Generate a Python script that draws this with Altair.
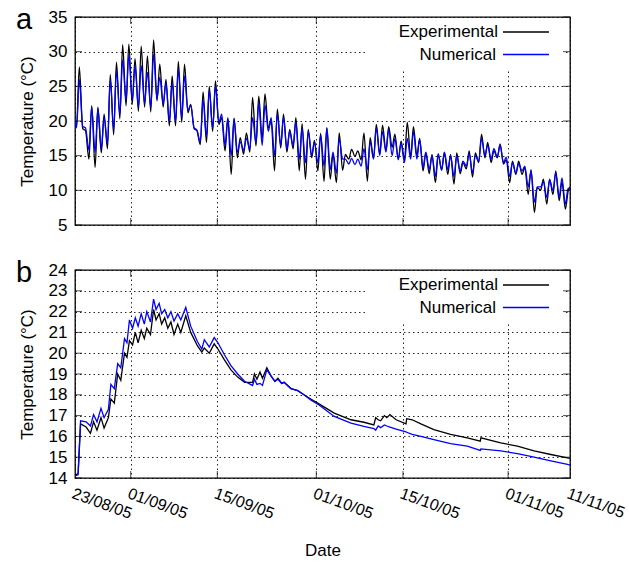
import altair as alt
import pandas as pd

FONT = "Liberation Sans"
START = pd.Timestamp("2005-08-23")
SERIES = ["Experimental", "Numerical"]
COLORS = ["#000000", "#0000ff"]
TICK_DATES = ["2005-08-23", "2005-09-01", "2005-09-15", "2005-10-01",
              "2005-10-15", "2005-11-01", "2005-11-11"]
A_YTICKS = [5, 10, 15, 20, 25, 30, 35]
B_YTICKS = [14, 15, 16, 17, 18, 19, 20, 21, 22, 23, 24]

# ---- panel a: daily minimum / maximum (days 0..79 after 23/08/05)
a_exp_min = [19.3, 18.9, 14.5, 13.3, 15.4, 16.0, 18.0, 20.3, 22.2, 22.4,
             21.4, 22.0, 21.3, 22.9, 22.0, 19.3, 19.3, 19.8, 21.2, 18.9,
             16.6, 16.9, 18.5, 19.5, 15.7, 12.3, 14.7, 15.2, 15.5, 16.4,
             17.4, 19.0, 12.8, 16.1, 15.5, 16.0, 12.8, 11.6, 14.7, 12.8,
             11.3, 11.6, 11.1, 12.9, 14.5, 14.9, 14.4, 11.3, 14.6, 15.2,
             15.7, 16.2, 14.4, 14.4, 14.8, 15.0, 12.8, 12.4, 11.1, 12.9,
             12.3, 10.9, 12.4, 13.1, 11.9, 14.0, 14.7, 14.0, 14.7, 13.8,
             11.1, 12.3, 12.3, 9.4, 6.8, 10.0, 8.0, 9.4, 8.5, 7.3]
a_exp_max = [27.8, 18.6, 22.2, 22.0, 21.0, 26.7, 28.5, 31.0, 31.1, 29.0,
             30.8, 29.4, 31.7, 28.2, 26.0, 26.5, 28.6, 28.2, 22.4, 18.6,
             24.2, 25.0, 25.8, 20.5, 20.3, 20.4, 17.6, 18.3, 23.4, 23.6,
             23.9, 20.0, 21.7, 21.0, 18.8, 20.5, 19.6, 18.8, 17.2, 18.2,
             19.0, 15.2, 18.3, 15.2, 15.9, 15.7, 18.3, 17.6, 19.5, 19.4,
             19.2, 18.1, 17.1, 19.8, 19.2, 17.5, 15.4, 15.2, 15.2, 15.4,
             15.2, 15.4, 14.0, 15.7, 15.4, 18.1, 16.9, 15.7, 16.7, 14.4,
             14.2, 14.2, 13.3, 13.0, 10.4, 11.6, 11.6, 12.8, 11.2, 9.9]
a_num_min = [19.0, 19.2, 15.8, 15.5, 16.0, 16.8, 18.8, 21.0, 23.0, 23.0,
             22.0, 22.5, 22.0, 23.2, 22.5, 20.0, 20.0, 20.5, 21.5, 19.0,
             17.0, 17.8, 19.0, 19.8, 16.5, 15.0, 15.5, 15.8, 16.0, 16.8,
             16.5, 18.5, 15.0, 16.5, 16.0, 16.5, 14.5, 14.0, 15.0, 14.0,
             13.5, 13.0, 12.5, 14.5, 13.8, 13.7, 13.5, 13.0, 14.5, 15.0,
             15.5, 15.0, 14.5, 14.0, 14.5, 14.5, 13.3, 13.0, 12.0, 13.0,
             13.0, 12.0, 12.8, 13.5, 12.5, 14.2, 15.0, 14.5, 14.8, 14.0,
             12.0, 12.5, 12.8, 10.5, 8.3, 10.5, 9.0, 10.0, 9.0, 8.0]
a_num_max = [26.0, 19.0, 22.0, 21.8, 20.5, 26.0, 27.3, 28.8, 29.5, 27.9,
             28.0, 27.0, 29.6, 26.3, 25.5, 25.5, 27.5, 26.5, 22.3, 18.7,
             23.0, 24.4, 25.0, 21.0, 20.5, 20.3, 17.0, 17.5, 20.5, 22.6,
             22.3, 20.5, 21.0, 20.5, 18.5, 19.8, 19.0, 18.5, 17.0, 18.0,
             19.0, 15.5, 17.5, 14.5, 14.6, 14.5, 16.0, 17.0, 19.0, 18.5,
             18.8, 17.5, 16.8, 17.5, 18.5, 17.3, 15.5, 15.0, 15.3, 15.5,
             15.0, 15.0, 14.2, 15.3, 15.0, 17.5, 16.5, 16.0, 16.5, 14.8,
             14.0, 13.8, 13.5, 12.8, 10.5, 11.2, 11.5, 12.5, 11.8, 10.3]
a_first = [19.8, 20.0]   # value at 23/08/05 00:00 (exp, num)
a_last = [10.5, 10.0]    # value at 11/11/05 00:00 (exp, num)

# ---- panel b: (day offset, experimental, numerical)
b_days = [0, 0.5, 0.9, 1.8, 2.5, 3.0, 3.55, 4.2, 4.7, 5.4,
          5.8, 6.35, 6.9, 7.4, 8.0, 8.4, 8.8, 9.3, 9.75, 10.2,
          10.7, 11.2, 11.6, 12.2, 12.7, 13.1, 13.6, 14.0, 14.5, 15.0,
          15.5, 16.0, 16.6, 17.1, 17.9, 18.7, 19.8, 20.5, 20.9, 21.7,
          22.5, 23.1, 24.1, 25.2, 26.3, 27.4, 28.7, 29.0, 29.4, 29.9,
          30.3, 31.0, 31.7, 32.3, 32.8, 33.4, 33.8, 34.9, 36.0, 37.0,
          38.1, 39.5, 41.9, 44.6, 46.7, 48.3, 48.6, 49.0, 49.4, 50.0,
          50.4, 50.9, 51.9, 53.5, 53.6, 54.5, 55.9, 58.0, 60.7, 63.4,
          65.5, 65.6, 68.8, 71.5, 74.2, 76.9, 79.6, 80.0]
b_exp = [14.15, 14.2, 16.6, 16.45, 16.15, 16.7, 16.3, 16.9, 16.4, 16.9,
         17.8, 17.6, 19.0, 18.7, 20.0, 19.8, 20.6, 20.4, 21.0, 20.5,
         21.1, 20.7, 21.2, 20.9, 22.1, 21.6, 21.9, 21.4, 21.7, 21.2,
         21.5, 20.9, 21.4, 21.0, 21.8, 21.0, 20.35, 20.05, 20.25, 20.0,
         20.45, 20.2, 19.7, 19.2, 18.85, 18.6, 18.6, 19.0, 18.75, 19.1,
         18.8, 19.3, 18.9, 18.65, 18.8, 18.55, 18.6, 18.3, 18.2, 18.0,
         17.8, 17.55, 17.12, 16.8, 16.68, 16.55, 16.9, 16.8, 16.75, 17.0,
         16.9, 17.05, 16.8, 16.6, 16.85, 16.8, 16.6, 16.33, 16.1, 15.93,
         15.77, 15.93, 15.69, 15.53, 15.3, 15.13, 14.97, 14.95]
b_num = [14.1, 14.15, 16.75, 16.7, 16.5, 17.05, 16.7, 17.35, 16.9, 17.3,
         18.5, 18.3, 19.5, 19.3, 20.7, 20.5, 21.6, 21.2, 21.7, 21.3,
         21.9, 21.4, 22.0, 21.5, 22.6, 22.1, 22.4, 21.9, 22.1, 21.7,
         22.0, 21.55, 21.9, 21.6, 22.2, 21.3, 20.55, 20.2, 20.65, 20.3,
         20.75, 20.5, 19.95, 19.4, 19.0, 18.65, 18.45, 18.75, 18.5, 18.55,
         18.45, 19.2, 18.9, 18.65, 18.75, 18.55, 18.6, 18.3, 18.2, 18.0,
         17.75, 17.5, 16.96, 16.64, 16.48, 16.38, 16.3, 16.5, 16.42, 16.55,
         16.5, 16.45, 16.35, 16.22, 16.2, 16.1, 16.0, 15.85, 15.65, 15.53,
         15.33, 15.4, 15.3, 15.17, 15.0, 14.82, 14.65, 14.62]


def to_date(d):
    return START + pd.Timedelta(days=d)


rows_a = []
for k, (mins, maxs) in enumerate([(a_exp_min, a_exp_max), (a_num_min, a_num_max)]):
    rows_a.append((to_date(0), a_first[k], SERIES[k], 0))
    i = 1
    for d in range(len(mins)):
        rows_a.append((to_date(d + 0.25), mins[d], SERIES[k], i)); i += 1
        rows_a.append((to_date(d + 0.7), maxs[d], SERIES[k], i)); i += 1
    rows_a.append((to_date(80), a_last[k], SERIES[k], i))
df_a = pd.DataFrame(rows_a, columns=["date", "temp", "series", "idx"])

rows_b = []
for k, vals in enumerate([b_exp, b_num]):
    for i, (d, v) in enumerate(zip(b_days, vals)):
        rows_b.append((to_date(d), v, SERIES[k], i))
df_b = pd.DataFrame(rows_b, columns=["date", "temp", "series", "idx"])

W, H = 495, 208
dom_x = [START.isoformat(), to_date(80).isoformat()]
tick_vals = [alt.DateTime(year=int(s[:4]), month=int(s[5:7]), date=int(s[8:])) for s in TICK_DATES]
one = pd.DataFrame({"k": [0]})


def panel(df, letter, ydom, yticks, show_x, interp, widths):
    if show_x:
        xaxis = alt.Axis(values=tick_vals, format="%d/%m/%y", labelAngle=20, labelAlign="left",
                         labelBaseline="top", labelPadding=7, labelFlush=False, labelOverlap=False,
                         labelBound=False, labelFontSize=16, ticks=False, domain=False,
                         title="Date", titlePadding=21)
    else:
        xaxis = alt.Axis(values=tick_vals, labels=False, ticks=False, domain=False, title=None)
    x = alt.X("date:T", scale=alt.Scale(domain=dom_x), axis=xaxis)
    y = alt.Y("temp:Q", scale=alt.Scale(domain=ydom, nice=False, zero=False),
              axis=alt.Axis(values=yticks, ticks=False, domain=False, labelPadding=8,
                            labelFlush=False, labelOverlap=False,
                            title="Temperature (°C)", titlePadding=12))
    lines = alt.Chart(df).mark_line(clip=True, interpolate=interp).encode(
        x=x, y=y,
        color=alt.Color("series:N", scale=alt.Scale(domain=SERIES, range=COLORS), legend=None),
        strokeWidth=alt.StrokeWidth("series:N", scale=alt.Scale(domain=SERIES, range=widths),
                                    legend=None),
        order="idx:Q")
    yt = pd.DataFrame({"temp": yticks})
    tick_l = alt.Chart(yt).mark_tick(color="black", size=7, thickness=1).encode(
        y=y, x=alt.value(3.5))
    tick_r = alt.Chart(yt).mark_tick(color="black", size=7, thickness=1).encode(
        y=y, x=alt.value(W - 3.5))
    xt = pd.DataFrame({"date": [pd.Timestamp(s) for s in TICK_DATES[1:-1]]})
    tick_t = alt.Chart(xt).mark_tick(color="black", size=7, thickness=1).encode(
        x=x, y=alt.value(3.5))
    tick_b = alt.Chart(xt).mark_tick(color="black", size=7, thickness=1).encode(
        x=x, y=alt.value(H - 3.5))
    box = alt.Chart(one).mark_rect(fill="white").encode(
        x=alt.value(291), x2=alt.value(488), y=alt.value(1), y2=alt.value(52))
    layers = [lines, tick_l, tick_r, tick_t, tick_b, box]
    for i, (name, col) in enumerate(zip(SERIES, COLORS)):
        yy = 15 + 22.5 * i
        layers.append(alt.Chart(one).mark_text(text=name, align="right", baseline="middle",
                                               font=FONT, fontSize=17, color="black").encode(
            x=alt.value(423 if i == 0 else 421), y=alt.value(yy)))
        layers.append(alt.Chart(one).mark_rule(color=col, strokeWidth=1.3).encode(
            x=alt.value(428), x2=alt.value(474), y=alt.value(yy)))
    layers.append(alt.Chart(one).mark_text(text=letter, align="left", baseline="alphabetic",
                                           font=FONT, fontSize=29, color="black").encode(
        x=alt.value(-59), y=alt.value(12)))
    return alt.layer(*layers).properties(width=W, height=H)


pa = panel(df_a, "a", [5, 35], A_YTICKS, False, "monotone", [1.3, 1.3])
pb = panel(df_b, "b", [14, 24], B_YTICKS, True, "linear", [1.8, 1.3])

chart = alt.vconcat(pa, pb, spacing=24).configure(
    padding={"left": 15, "top": 5, "right": 2, "bottom": 2}, font=FONT
).configure_view(stroke="black", strokeWidth=1.3).configure_axis(
    grid=True, gridColor="#000000", gridDash=[1.5, 3], gridOpacity=0.85, gridWidth=1,
    labelFont=FONT, labelFontSize=17, labelColor="black",
    titleFont=FONT, titleFontSize=17, titleFontWeight="normal", titleColor="black")

chart.save("out.html", embed_options={"renderer": "svg", "actions": False})
